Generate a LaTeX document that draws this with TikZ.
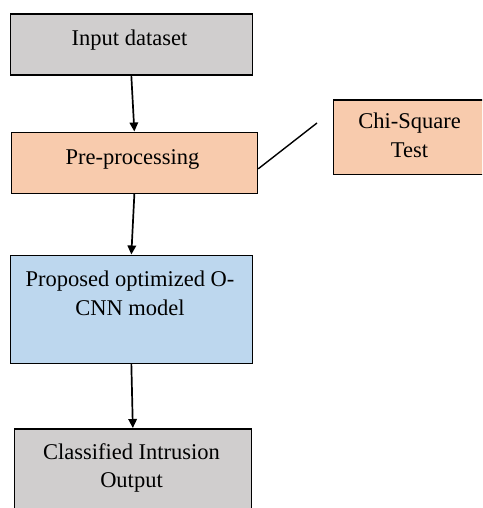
\documentclass[tikz,border=0pt]{standalone}
\usepackage{fontspec}
\setmainfont{Liberation Serif}
\usetikzlibrary{arrows.meta}
\definecolor{boxgray}{HTML}{D0CECE}
\definecolor{boxpeach}{HTML}{F8CBAD}
\definecolor{boxblue}{HTML}{BDD7EE}
\begin{document}
\begin{tikzpicture}[x=1pt,y=-1pt,
  stage/.style={draw=black, line width=1.7pt, inner sep=0pt, anchor=north west},
  label text/.style={anchor=north, inner sep=0pt, align=center,
    font=\fontsize{22.5}{28.5}\selectfont},
  flow/.style={line width=1.7pt, -{Triangle[width=8.5pt,length=9pt]}},
  link/.style={line width=1.4pt}]
\useasboundingbox (0,0) rectangle (482,508);
\clip (0,0) rectangle (482,508);

% process boxes
\node[stage, fill=boxgray,  minimum width=242pt, minimum height=61pt]  (inp)  at (9.5,13.5) {};
\node[stage, fill=boxpeach, minimum width=246pt, minimum height=61pt]  (pre)  at (10.5,131.5) {};
\node[stage, fill=boxpeach, minimum width=160pt, minimum height=74pt]  (chi)  at (332.5,99.5) {};
\node[stage, fill=boxblue,  minimum width=242pt, minimum height=108pt] (prop) at (9.5,254.5) {};
\node[stage, fill=boxgray,  minimum width=237pt, minimum height=100pt] (cls)  at (13.5,428) {};

% box captions (top aligned)
\node[label text] (tinp)  at (129.5,30)  {Input dataset};
\node[label text] (tpre)  at (132.5,149) {Pre-processing};
\node[label text] (tchi)  at (409.5,113) {Chi-Square\\Test};
\node[label text] (tprop) at (130,271)   {Proposed optimized O-\\CNN model};
\node[label text] (tcls)  at (131.5,443) {Classified Intrusion\\Output};

% connectors
\draw[flow] (inp.south) -- (pre.north);
\draw[flow] (pre.south) -- (prop.north);
\draw[flow] (prop.south) -- (cls.north);
\coordinate (chiend) at (317,123);
\draw[link] ([yshift=-6pt]pre.east) -- (chiend);
\end{tikzpicture}
\end{document}
